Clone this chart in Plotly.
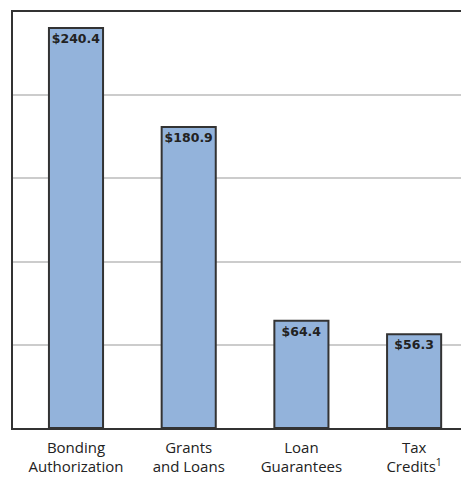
import plotly.graph_objects as go

categories = ["Bonding<br>Authorization", "Grants<br>and Loans", "Loan<br>Guarantees", "Tax<br>Credits<sup>1</sup>"]
values = [240.4, 180.9, 64.4, 56.3]
labels = ["$240.4", "$180.9", "$64.4", "$56.3"]

fig = go.Figure(go.Bar(
    x=categories, y=values, text=labels,
    textposition="inside", insidetextanchor="end",
    textangle=0, constraintext="none",
    textfont=dict(family="DejaVu Sans", size=12.5, color="#222222"),
    texttemplate="<b>%{text}</b>",
    marker=dict(color="#93b3db", line=dict(color="#333333", width=2)),
    width=0.48,
))

fig.update_layout(
    width=461, height=477,
    margin=dict(l=13, r=0, t=12, b=49),
    plot_bgcolor="white", paper_bgcolor="white",
    showlegend=False,
    font=dict(family="Open Sans", size=15, color="#222222"),
)
fig.update_xaxes(
    type="category", range=[-0.559, 3.416],
    showline=True, linecolor="#333333", linewidth=1.5, mirror=True,
    ticks="", showgrid=False, tickfont=dict(size=15, color="#222222"),
    ticklabelstandoff=5, automargin=False,
)
fig.update_yaxes(
    range=[0, 250], tickvals=[50, 100, 150, 200],
    showticklabels=False, showgrid=True, gridcolor="#cccccc", gridwidth=2,
    showline=True, linecolor="#333333", linewidth=1.5, zeroline=False, ticks="",
    automargin=False,
)

fig.write_html("out.html")
